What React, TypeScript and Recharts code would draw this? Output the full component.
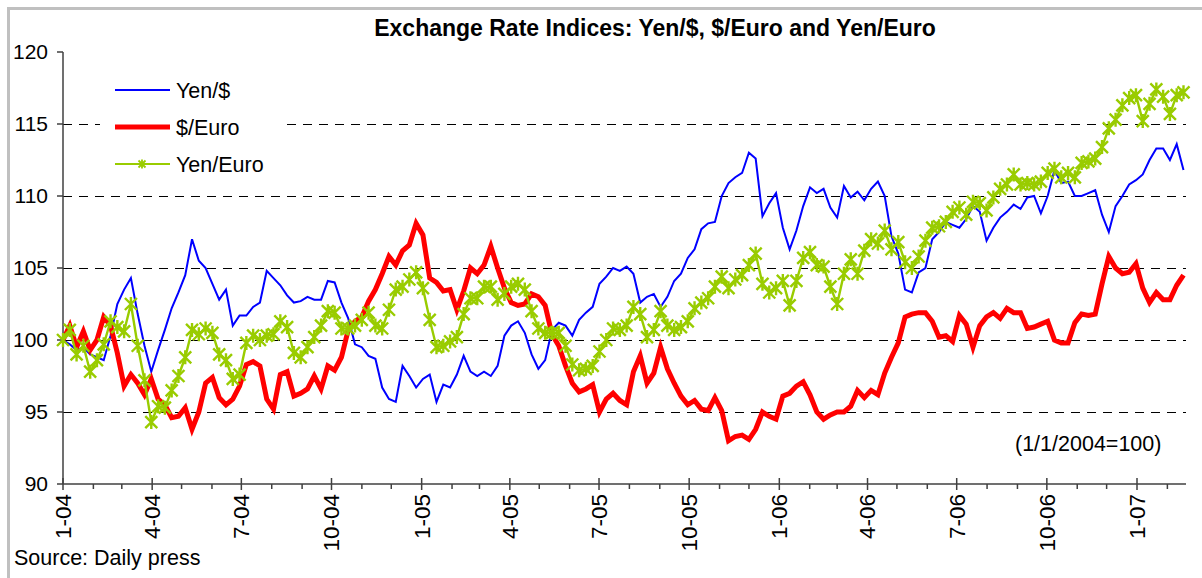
import React from 'react'
import { LineChart, Line, XAxis, YAxis, CartesianGrid, Legend } from 'recharts'

// index values, 1/1/2004 = 100, one reading roughly every trading week
const SAMPLE_STEP_DAYS = 6.93
const END_DAY = 1146

const yenDollar = [
  100, 99.7, 99.3, 99.5, 99.0, 98.8, 98.6, 100.3, 102.5, 103.5, 104.3, 101.8, 99.6, 97.8, 99.3, 100.7, 102.2, 103.3, 104.5, 107.0, 105.5,
  105.0, 103.9, 102.8, 103.5, 101.0, 101.7, 101.7, 102.3, 102.6, 104.8, 104.3, 103.8, 103.1, 102.6, 102.7, 103.0, 102.8, 102.8, 104.1, 104.0, 102.6,
  101.5, 99.7, 99.5, 98.9, 98.7, 96.7, 95.9, 95.7, 98.2, 97.5, 96.7, 97.3, 97.6, 95.7, 96.9, 96.7, 97.6, 98.9, 97.8, 97.5, 97.8,
  97.5, 98.2, 100.3, 101.0, 101.3, 100.5, 99.0, 98.0, 98.6, 100.7, 101.2, 101.0, 100.3, 101.4, 101.9, 102.3, 103.9, 104.4, 105.0, 104.8,
  105.1, 104.6, 102.6, 103.0, 103.2, 102.3, 103.0, 104.1, 104.6, 105.7, 106.3, 107.7, 108.1, 108.2, 110.0, 110.9, 111.3, 111.6, 113.0, 112.6, 108.6,
  109.5, 110.2, 107.8, 106.3, 107.6, 109.3, 110.6, 110.2, 110.5, 109.2, 108.5, 110.7, 109.9, 110.3, 109.7, 110.5, 111.0, 110.0, 107.2, 106.0, 103.5,
  103.3, 104.7, 105.0, 107.0, 107.5, 108.2, 108.0, 107.8, 108.4, 109.3, 108.9, 106.9, 107.8, 108.5, 108.9, 109.4, 109.1, 109.9, 110.0, 108.8,
  110.0, 111.8, 110.9, 111.0, 110.0, 110.0, 110.2, 110.4, 108.7, 107.5, 109.3, 110.0, 110.8, 111.1, 111.5, 112.5, 113.3, 113.3, 112.5, 113.6, 111.8,
]

const dollarEuro = [
  100, 101.0, 99.5, 100.6, 99.3, 100.0, 101.6, 101.0, 99.1, 96.8, 97.6, 97.0, 96.2, 97.3, 95.9, 95.5, 94.6, 94.7, 95.3, 93.8, 95.0,
  97.0, 97.4, 96.0, 95.5, 95.9, 96.8, 98.3, 98.5, 98.2, 95.9, 95.2, 97.6, 97.8, 96.1, 96.3, 96.6, 97.5, 96.6, 98.2, 97.9, 98.8,
  100.7, 101.3, 101.6, 102.7, 103.5, 104.6, 105.8, 105.2, 106.2, 106.6, 108.1, 107.3, 104.3, 104.0, 103.4, 103.5, 102.1, 103.4, 105.0, 104.6, 105.2,
  106.5, 105.0, 103.6, 102.6, 102.4, 102.5, 103.2, 103.0, 102.4, 100.4, 99.6, 98.2, 97.0, 96.4, 96.6, 96.9, 95.0, 95.9, 96.3, 95.8,
  95.5, 97.8, 98.9, 97.0, 97.7, 99.5, 98.0, 97.0, 96.1, 95.5, 95.8, 95.2, 95.1, 96.0, 95.1, 93.0, 93.3, 93.4, 93.1, 93.8, 95.0,
  94.7, 94.5, 96.1, 96.3, 96.8, 97.1, 96.2, 95.0, 94.5, 94.8, 95.0, 95.0, 95.4, 96.5, 96.0, 96.5, 96.2, 97.7, 98.8, 99.8, 101.6,
  101.8, 101.9, 101.9, 101.3, 100.2, 100.3, 99.9, 101.7, 101.1, 99.5, 101.0, 101.6, 101.9, 101.5, 102.2, 101.9, 101.9, 100.8, 100.9, 101.1,
  101.3, 100.0, 99.8, 99.8, 101.2, 101.8, 101.7, 101.8, 103.9, 105.8, 105.0, 104.6, 104.7, 105.3, 103.6, 102.6, 103.3, 102.8, 102.8, 103.8, 104.5,
]

const yenEuro = [
  100, 100.7, 99.0, 99.6, 97.8, 98.6, 99.7, 101.3, 100.9, 100.6, 102.5, 99.6, 97.2, 94.3, 95.4, 95.3, 96.5, 97.5, 98.8, 100.7, 100.4,
  100.8, 100.5, 99.0, 98.6, 97.3, 97.6, 99.8, 100.3, 100.0, 100.3, 100.4, 101.3, 100.9, 99.1, 98.8, 99.5, 100.2, 101.0, 102.0, 101.9, 100.8,
  100.8, 101.0, 101.4, 101.9, 101.0, 100.8, 102.1, 103.5, 103.7, 104.2, 104.7, 103.6, 101.4, 99.5, 99.6, 99.9, 100.2, 101.8, 102.9, 102.9, 103.7,
  103.7, 102.8, 103.2, 103.7, 103.9, 103.5, 102.0, 100.8, 100.5, 100.5, 100.5, 99.6, 98.3, 97.9, 98.0, 98.2, 99.2, 100.0, 100.8, 100.7,
  101.0, 102.3, 101.8, 100.2, 100.7, 102.0, 101.0, 100.7, 100.9, 101.3, 102.2, 102.6, 102.9, 103.7, 104.4, 103.6, 104.2, 104.5, 105.2, 106.0, 103.9,
  103.3, 103.6, 104.1, 102.4, 104.1, 105.7, 106.1, 105.2, 105.1, 103.7, 102.5, 104.6, 105.6, 104.6, 106.2, 107.0, 106.7, 107.6, 106.3, 106.8, 105.4,
  105.0, 105.8, 106.9, 107.8, 107.9, 108.2, 108.9, 109.2, 108.7, 109.6, 109.5, 109.0, 109.9, 110.5, 110.8, 111.5, 110.8, 110.9, 110.8, 111.0,
  111.6, 111.9, 111.3, 111.6, 111.3, 112.3, 112.4, 112.6, 113.4, 114.7, 115.3, 116.3, 116.8, 117.0, 115.2, 116.4, 117.4, 116.9, 115.7, 117.0, 117.2,
]

const Y_TICKS = [90, 95, 100, 105, 110, 115, 120]
const GRID_VALUES = [95, 100, 105, 110, 115]

const FONT = '"Liberation Sans", Arial, sans-serif'
const BLUE = '#0000FF'
const RED = '#FF0000'
const GREEN = '#99CC00'
const AXIS = '#404040'

// month starts (days since 1/1/2004); quarter starts get a "m-yy" label
const START = Date.UTC(2004, 0, 1)
const monthTicks: number[] = []
const tickLabels: Record<number, string> = {}
for (let y = 2004; y <= 2007; y++) {
  for (let m = 0; m < 12; m++) {
    const d = Math.round((Date.UTC(y, m, 1) - START) / 86400000)
    if (d > END_DAY) break
    monthTicks.push(d)
    if (m % 3 === 0) tickLabels[d] = `${m + 1}-${String(y).slice(2)}`
  }
}

const data = yenDollar.map((v, i) => ({
  day: i * SAMPLE_STEP_DAYS,
  yen: v,
  usd: dollarEuro[i],
  ye: yenEuro[i],
}))

function DateTick({ x, y, payload }: any) {
  const label = tickLabels[payload.value]
  const major = label !== undefined
  return (
    <g>
      <line x1={x} x2={x} y1={major ? y - 6 : y} y2={y + (major ? 6 : 5)} stroke={AXIS} strokeWidth={1.5} />
      {major && (
        <text
          x={x}
          y={y + 10}
          transform={`rotate(-90 ${x} ${y + 10})`}
          textAnchor="end"
          dy="0.35em"
          fill="#000"
          fontSize={22.5}
          fontFamily={FONT}
        >
          {label}
        </text>
      )}
    </g>
  )
}

function starPath(cx: number, cy: number, r: number) {
  return `M${cx - r},${cy - r}L${cx + r},${cy + r}M${cx + r},${cy - r}L${cx - r},${cy + r}M${cx},${cy - r - 1}L${cx},${cy + r + 1}`
}

function StarDot(props: any) {
  const { cx, cy, index } = props
  if (cx == null || cy == null) return <g key={`s-${index}`} />
  return <path key={`s-${index}`} d={starPath(cx, cy, 6)} stroke={GREEN} strokeWidth={2.4} fill="none" />
}

function LegendBox() {
  const rows = [
    { name: 'Yen/$', color: BLUE, width: 2, star: false },
    { name: '$/Euro', color: RED, width: 5, star: false },
    { name: 'Yen/Euro', color: GREEN, width: 2, star: true },
  ]
  return (
    <svg width={180} height={112} style={{ display: 'block', background: '#fff' }}>
      {rows.map((r, i) => {
        const cy = 20 + i * 37
        return (
          <g key={r.name}>
            <line x1={15} x2={70} y1={cy} y2={cy} stroke={r.color} strokeWidth={r.width} />
            {r.star && <path d={starPath(42, cy, 3.5)} stroke={GREEN} strokeWidth={1.8} fill="none" />}
            <text x={76} y={cy} dy="0.36em" fontSize={21.5} fontFamily={FONT} fill="#000">
              {r.name}
            </text>
          </g>
        )
      })}
    </svg>
  )
}

export default function App() {
  return (
    <div style={{ position: 'absolute', left: 0, top: 0, width: 1202, height: 578, background: '#fff', overflow: 'hidden', fontFamily: FONT }}>
      <div style={{ position: 'absolute', left: 7, top: 7, width: 1230, height: 620, border: '3px solid #C0C0C0' }} />
      <LineChart width={1202} height={578} data={data} margin={{ top: 52, right: 16, bottom: 4, left: 3 }}>
        <CartesianGrid vertical={false} horizontalValues={GRID_VALUES} stroke="#000" strokeWidth={1} strokeDasharray="9 7" shapeRendering="crispEdges" />
        <XAxis
          dataKey="day"
          type="number"
          domain={[0, END_DAY]}
          ticks={monthTicks}
          interval={0}
          height={90}
          tickSize={0}
          tickMargin={0}
          tickLine={false}
          axisLine={{ stroke: AXIS, strokeWidth: 1.5 }}
          tick={<DateTick />}
        />
        <XAxis xAxisId="top" orientation="top" dataKey="day" type="number" domain={[0, END_DAY]} height={0} tick={false} tickLine={false} axisLine={{ stroke: '#909090', strokeWidth: 2 }} />
        <YAxis
          domain={[90, 120]}
          ticks={Y_TICKS}
          interval={0}
          width={60}
          tickSize={6}
          tickMargin={9}
          tickLine={{ stroke: AXIS, strokeWidth: 1.5 }}
          axisLine={{ stroke: AXIS, strokeWidth: 1.5 }}
          tick={{ fill: '#000', fontSize: 21, fontFamily: FONT }}
        />
        <YAxis yAxisId="right" orientation="right" domain={[90, 120]} width={0} tick={false} tickLine={false} axisLine={{ stroke: '#909090', strokeWidth: 2 }} />
        <Line type="linear" dataKey="yen" name="Yen/$" stroke={BLUE} strokeWidth={2} dot={false} isAnimationActive={false} />
        <Line type="linear" dataKey="usd" name="$/Euro" stroke={RED} strokeWidth={5} dot={false} isAnimationActive={false} />
        <Line type="linear" dataKey="ye" name="Yen/Euro" stroke={GREEN} strokeWidth={2.4} dot={(p: any) => <StarDot {...p} key={`s-${p.index}`} />} isAnimationActive={false} />
        <Legend
          layout="vertical"
          align="center"
          verticalAlign="middle"
          content={() => <LegendBox />}
          wrapperStyle={{ left: 100, top: 70, width: 180, height: 112, bottom: 'auto', right: 'auto' }}
        />
      </LineChart>
      <div style={{ position: 'absolute', left: 655, top: 17, transform: 'translateX(-50%)', whiteSpace: 'nowrap', fontSize: 23, fontWeight: 'bold', lineHeight: 1 }}>
        Exchange Rate Indices: Yen/$, $/Euro and Yen/Euro
      </div>
      <div style={{ position: 'absolute', left: 1015, top: 434, whiteSpace: 'nowrap', fontSize: 21.5, lineHeight: 1 }}>
        (1/1/2004=100)
      </div>
      <div style={{ position: 'absolute', left: 14, top: 548, whiteSpace: 'nowrap', fontSize: 21.5, lineHeight: 1 }}>
        Source: Daily press
      </div>
    </div>
  )
}
